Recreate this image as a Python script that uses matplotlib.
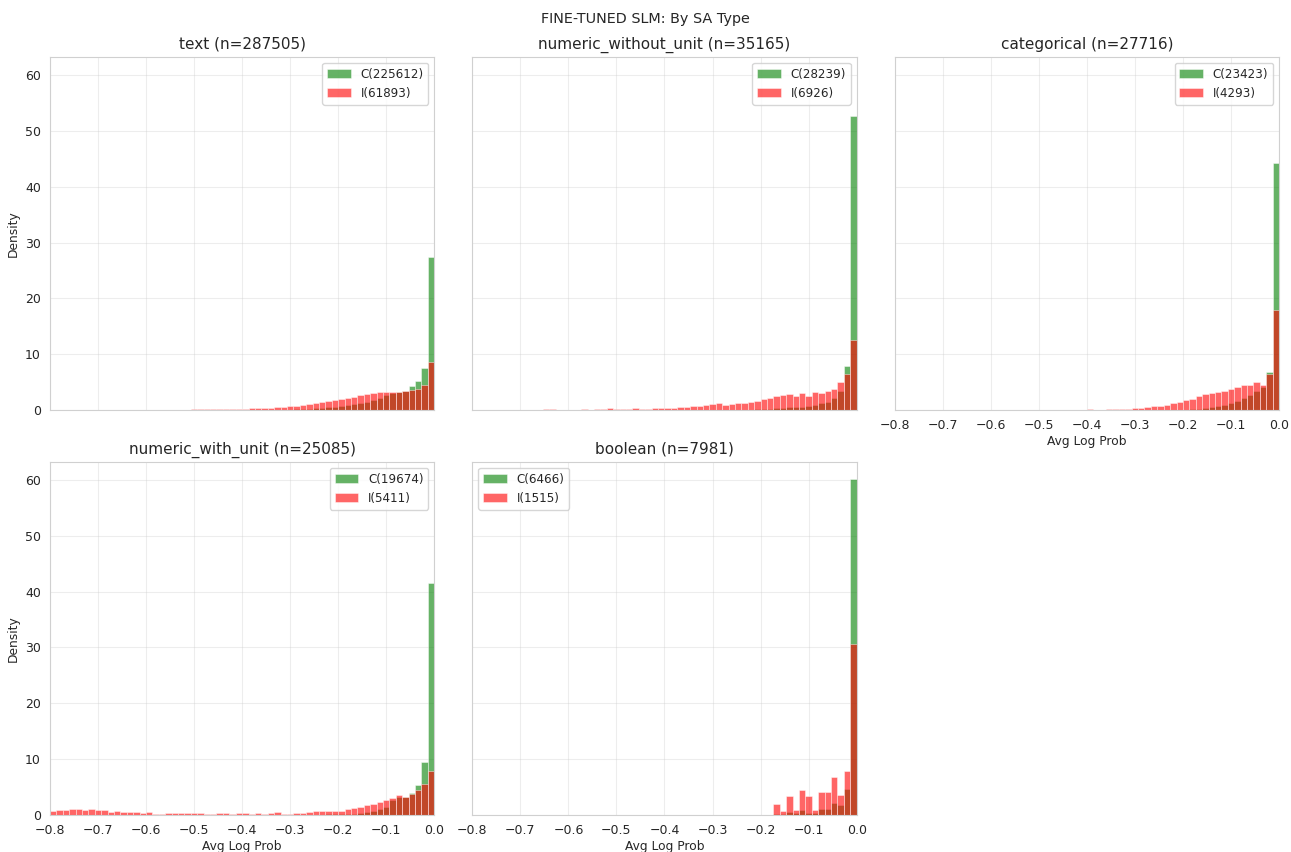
import matplotlib
matplotlib.use("Agg")
import matplotlib.pyplot as plt
import numpy as np
import seaborn as sns

sns.set_style("whitegrid")

# bins of avg log prob, fixed range [-0.8, 0]
bin_edges = np.linspace(-0.8, 0.0, 61)

sa_types = ["text", "numeric_without_unit", "categorical", "numeric_with_unit", "boolean"]
n_total = [287505, 35165, 27716, 25085, 7981]
n_correct = [225612, 28239, 23423, 19674, 6466]
n_incorrect = [61893, 6926, 4293, 5411, 1515]

# density per bin
text_c = [0.01] * 10 + [0.02] * 10 + [0.03, 0.03, 0.03, 0.04, 0.04, 0.04, 0.05, 0.05, 0.05, 0.06,
          0.06, 0.07, 0.07, 0.08, 0.08, 0.09, 0.1, 0.1, 0.12, 0.15,
          0.2, 0.3, 0.4, 0.6, 0.6, 0.7, 1.0, 1.1, 1.3, 1.5,
          1.8, 2.1, 2.7, 3.0, 3.3, 3.5, 4.4, 5.3, 7.5, 27.4]
text_i = [0.02] * 11 + [0.05, 0.05, 0.06, 0.06, 0.07, 0.07, 0.08, 0.08, 0.09,
          0.09, 0.1, 0.11, 0.12, 0.14, 0.16, 0.18, 0.2, 0.22, 0.25,
          0.27, 0.3, 0.35, 0.4, 0.45, 0.5, 0.6, 0.65, 0.8, 0.9,
          1.1, 1.2, 1.4, 1.6, 1.8, 2.0, 2.2, 2.4, 2.7, 2.8,
          3.0, 3.2, 3.2, 3.2, 3.3, 3.4, 3.6, 3.7, 4.5, 8.7]

nwo_c = [0.01] * 20 + [0.02] * 10 + [0.03, 0.03, 0.04, 0.04, 0.05, 0.05, 0.06, 0.06, 0.07, 0.07,
         0.08, 0.08, 0.1, 0.1, 0.15, 0.2, 0.25, 0.3, 0.35, 0.5,
         0.5, 0.6, 0.8, 1.0, 1.25, 1.5, 2.2, 3.5, 7.9, 52.7]
nwo_i = [0.03, 0.03, 0.05, 0.1, 0.05, 0.04, 0.05, 0.1, 0.05, 0.03,
         0.04, 0.12, 0.12, 0.06, 0.1, 0.06, 0.06, 0.12, 0.06, 0.12,
         0.25, 0.3, 0.12, 0.25, 0.2, 0.3, 0.25, 0.25, 0.3, 0.3,
         0.35, 0.35, 0.55, 0.5, 0.65, 0.8, 0.85, 1.1, 1.25, 0.9,
         1.1, 1.2, 1.2, 1.45, 1.7, 1.9, 2.15, 2.6, 2.7, 2.8,
         2.45, 3.1, 2.6, 3.2, 3.0, 3.5, 3.8, 5.0, 6.5, 12.6]

cat_c = [0.01] * 30 + [0.02] * 10 + [0.03, 0.04, 0.05, 0.06, 0.08,
         0.1, 0.2, 0.25, 0.35, 0.5, 0.7, 1.0, 1.3, 1.6, 2.1,
         2.7, 3.5, 4.2, 6.9, 44.3]
cat_i = [0.03, 0.05, 0.03, 0.04, 0.05, 0.05, 0.03, 0.08, 0.05, 0.03,
         0.04, 0.05, 0.03, 0.05, 0.06, 0.04, 0.05, 0.04, 0.03, 0.05,
         0.04, 0.03, 0.05, 0.06, 0.05, 0.04, 0.08, 0.05, 0.06, 0.08,
         0.12, 0.08, 0.1, 0.12, 0.15, 0.2, 0.25, 0.36, 0.42, 0.55,
         0.65, 0.8, 0.95, 1.3, 1.4, 1.85, 2.0, 2.45, 2.9, 3.0,
         3.3, 3.5, 3.8, 4.2, 4.5, 4.5, 5.0, 4.5, 6.4, 17.9]

nwu_c = [0.02] * 20 + [0.03] * 10 + [0.04, 0.04, 0.05, 0.05, 0.05, 0.06, 0.06, 0.07, 0.07, 0.08,
         0.08, 0.09, 0.09, 0.1, 0.1, 0.1, 0.1, 0.15, 0.3, 0.55,
         0.7, 1.0, 1.5, 2.7, 3.2, 3.3, 3.9, 5.4, 9.5, 41.6]
nwu_i = [0.7, 0.9, 0.85, 1.1, 1.0, 0.85, 1.0, 0.95, 0.95, 0.5,
         0.8, 0.6, 0.6, 0.5, 0.3, 0.6, 0.25, 0.25, 0.3, 0.3,
         0.3, 0.3, 0.3, 0.3, 0.25, 0.25, 0.3, 0.3, 0.25, 0.36,
         0.42, 0.25, 0.3, 0.25, 0.3, 0.55, 0.25, 0.25, 0.3, 0.42,
         0.5, 0.65, 0.65, 0.7, 0.8, 0.8, 1.0, 1.2, 1.45, 1.8,
         1.9, 2.3, 2.7, 3.0, 3.5, 3.3, 3.85, 4.4, 5.5, 7.8]

bool_c = [0.0] * 47 + [0.25, 0.2, 0.55, 0.35, 0.9, 0.35, 0.35, 1.0, 1.1, 2.1, 1.75, 4.7, 60.2]
bool_i = [0.0] * 47 + [1.9, 0.7, 3.35, 0.95, 4.5, 3.4, 0.9, 4.1, 4.1, 6.75, 3.6, 7.8, 30.6]

correct_dens = [text_c, nwo_c, cat_c, nwu_c, bool_c]
incorrect_dens = [text_i, nwo_i, cat_i, nwu_i, bool_i]
legend_loc = ["upper right", "upper right", "upper right", "upper right", "upper left"]

fig, axes = plt.subplots(2, 3, figsize=(12.91, 8.52), dpi=100, sharex=True, sharey=True)
fig.subplots_adjust(left=0.0387, right=0.9907, top=0.933, bottom=0.0434, wspace=0.099, hspace=0.147)
axs = axes.flatten()

for k, name in enumerate(sa_types):
    ax = axs[k]
    ax.hist(bin_edges[:-1], bins=bin_edges, weights=correct_dens[k], color="green", alpha=0.6,
            edgecolor="white", linewidth=0.5, label=f"C({n_correct[k]})")
    ax.hist(bin_edges[:-1], bins=bin_edges, weights=incorrect_dens[k], color="red", alpha=0.6,
            edgecolor="white", linewidth=0.5, label=f"I({n_incorrect[k]})")
    ax.set_title(f"{name} (n={n_total[k]})", fontsize=11)
    ax.set_xlim(-0.8, 0.0)
    ax.grid(True, alpha=0.35)
    ax.tick_params(labelsize=9, pad=3)
    ax.legend(loc=legend_loc[k], fontsize=8.6)
    for s in ax.spines.values():
        s.set_color("#d0d0d0")

fig.delaxes(axs[5])
axs[2].xaxis.set_tick_params(labelbottom=True)
for i in [2, 3, 4]:
    axs[i].set_xlabel("Avg Log Prob", fontsize=8.8, labelpad=2)
for i in [0, 3]:
    axs[i].set_ylabel("Density", fontsize=8.8)

fig.suptitle("FINE-TUNED SLM: By SA Type", fontsize=10.4, y=0.986)

plt.savefig("out.png", dpi=100)
